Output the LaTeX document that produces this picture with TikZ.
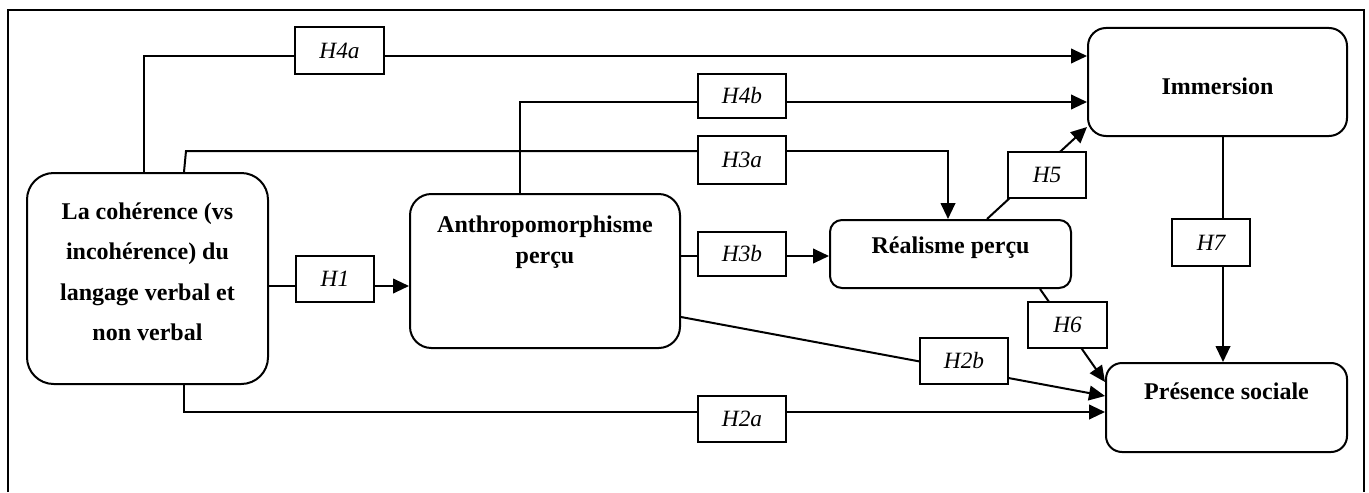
\documentclass[tikz,border=0pt]{standalone}
\usepackage{fontspec}
\setmainfont{Liberation Serif}
\usetikzlibrary{arrows.meta}
\begin{document}
\begin{tikzpicture}[x=0.75pt,y=-0.75pt,
  line width=1.5pt,
  box/.style={draw, rounded corners=#1, inner sep=0pt},
  hyp/.style={draw, fill=white, inner sep=0pt, line width=1.5pt,
    font=\itshape\fontsize{17.5}{20}\selectfont},
  arr/.style={-{Triangle[length=12pt,width=11pt]}},
  ttl/.style={font=\bfseries\fontsize{18}{#1}\selectfont, align=center}
]
\useasboundingbox (0,0) rectangle (1369,492);
% frame
\draw[line width=1.2pt] (8,492) -- (8,10) -- (1364,10) -- (1364,492);

% main nodes
\node[box=20pt, minimum width=180.75pt, minimum height=158.25pt,
  label={[ttl=30.4, yshift=5pt]center:{La cohérence (vs\\incohérence) du\\langage verbal et\\non verbal}}]
  (A) at (147.5,278.5) {};
\node[box=16pt, minimum width=202.5pt, minimum height=115.5pt,
  label={[ttl=23.3, yshift=21.4pt]center:{Anthropomorphisme\\perçu}}]
  (B) at (545,271) {};
\node[box=9pt, minimum width=180.75pt, minimum height=51pt,
  label={[ttl=22, yshift=5pt]center:{Réalisme perçu}}]
  (C) at (950.5,254) {};
\node[box=13.5pt, minimum width=194.25pt, minimum height=81pt,
  label={[ttl=22, yshift=-3pt]center:{Immersion}}]
  (D) at (1217.5,82) {};
\node[box=12pt, minimum width=180.75pt, minimum height=66.75pt,
  label={[ttl=22, yshift=12.4pt]center:{Présence sociale}}]
  (E) at (1226.5,407.5) {};

% diagonal / through connectors (under the hypothesis boxes)
\draw[arr] (B.east |- 0,317) -- (E.west |- 0,396);
\draw[arr] (C.north -| 987,0) -- (D.west |- 0,127);
\draw[arr] (C.south -| 1040,0) -- (E.west |- 0,382);
\draw[arr] (D.south -| 1223,0) -- (E.north -| 1223,0);

% hypothesis boxes
\node[hyp, minimum width=66.75pt, minimum height=35.25pt] (H4a) at (339.5,50.5) {H4a};
\node[hyp, minimum width=58.5pt, minimum height=34.5pt] (H1) at (335,279) {H1};
\node[hyp, minimum width=66pt, minimum height=33pt] (H4b) at (742,96) {H4b};
\node[hyp, minimum width=66pt, minimum height=36pt] (H3a) at (742,160) {H3a};
\node[hyp, minimum width=66pt, minimum height=33pt] (H3b) at (742,254) {H3b};
\node[hyp, minimum width=66pt, minimum height=34.5pt] (H2a) at (742,419) {H2a};
\node[hyp, minimum width=58.5pt, minimum height=34.5pt] (H5) at (1047,175) {H5};
\node[hyp, minimum width=58.5pt, minimum height=35.25pt] (H7) at (1211,242.5) {H7};
\node[hyp, minimum width=59.25pt, minimum height=34.5pt] (H6) at (1067.5,325) {H6};
\node[hyp, minimum width=66pt, minimum height=34.5pt] (H2b) at (964,361) {H2b};

% orthogonal connectors
\draw (A.north -| 144,0) |- (H4a.west |- 0,56);
\draw[arr] (H4a.east |- 0,56) -- (D.west |- 0,56);

\draw (A.north -| 184,0) -- (186,151) -- (H3a.west |- 0,151);
\draw[arr] (H3a.east |- 0,151) -| (C.north -| 948,0);

\draw (A.east |- 0,286) -- (H1.west |- 0,286);
\draw[arr] (H1.east |- 0,286) -- (B.west |- 0,286);

\draw (A.south -| 184,0) |- (H2a.west |- 0,412);
\draw[arr] (H2a.east |- 0,412) -- (E.west |- 0,412);

\draw (B.north -| 520,0) |- (H4b.west |- 0,102);
\draw[arr] (H4b.east |- 0,102) -- (D.west |- 0,102);

\draw (B.east |- 0,256) -- (H3b.west |- 0,256);
\draw[arr] (H3b.east |- 0,256) -- (C.west |- 0,256);
\end{tikzpicture}
\end{document}
